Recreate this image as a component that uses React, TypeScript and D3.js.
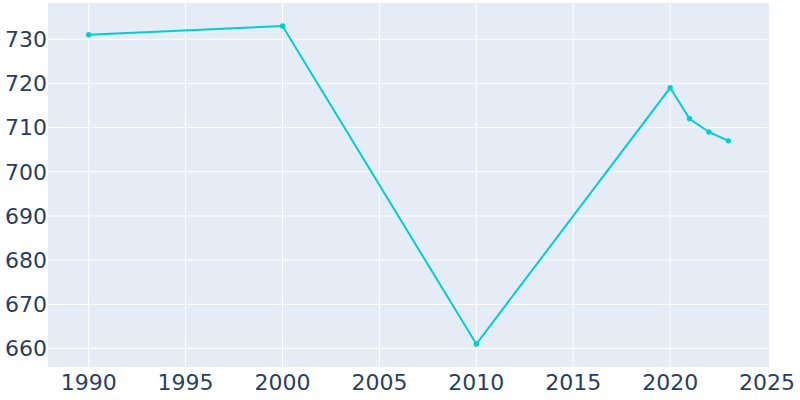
import React from "react";
import * as d3 from "d3";

const years = [1990, 2000, 2010, 2020, 2021, 2022, 2023];
const population = [731, 733, 661, 719, 712, 709, 707];
const xTicks = [1990, 1995, 2000, 2005, 2010, 2015, 2020, 2025];
const yTicks = [660, 670, 680, 690, 700, 710, 720, 730];

const W = 800;
const H = 400;
const left = 48;
const right = 769;
const gridRight = 767;
const top = 3;
const bottom = 367;

export default function App() {
  const x = d3.scaleLinear().domain([1987.9, 2025.1]).range([left, right]);
  const y = d3.scaleLinear().domain([655.8, 738.2]).range([bottom, top]);
  const line = d3
    .line<number>()
    .x((_, i) => x(years[i]))
    .y((d) => y(d));
  const font = "'DejaVu Sans', sans-serif";
  const textColor = "#2a3f5f";
  return (
    <svg
      width={W}
      height={H}
      style={{ position: "absolute", left: 0, top: 0, display: "block" }}
    >
      <rect x={left} y={top} width={right - left} height={bottom - top} fill="#E5ECF6" />
      {xTicks
        .filter((t) => x(t) < gridRight - 1)
        .map((t) => (
          <line key={"gx" + t} x1={x(t)} x2={x(t)} y1={top} y2={bottom} stroke="#fff" strokeWidth={1} />
        ))}
      {yTicks.map((t) => (
        <line key={"gy" + t} x1={left} x2={gridRight} y1={y(t)} y2={y(t)} stroke="#fff" strokeWidth={1} />
      ))}
      <path d={line(population) || ""} fill="none" stroke="#00CED1" strokeWidth={2} />
      {population.map((v, i) => (
        <circle key={i} cx={x(years[i])} cy={y(v)} r={2.7} fill="#00CED1" />
      ))}
      {yTicks.map((t) => (
        <text
          key={"ty" + t}
          x={47}
          y={y(t)}
          dy="0.36em"
          textAnchor="end"
          fontFamily={font}
          fontSize={22}
          fill={textColor}
        >
          {t}
        </text>
      ))}
      {xTicks.map((t) => (
        <text
          key={"tx" + t}
          x={x(t)}
          y={390}
          textAnchor="middle"
          fontFamily={font}
          fontSize={22}
          fill={textColor}
        >
          {t}
        </text>
      ))}
    </svg>
  );
}
